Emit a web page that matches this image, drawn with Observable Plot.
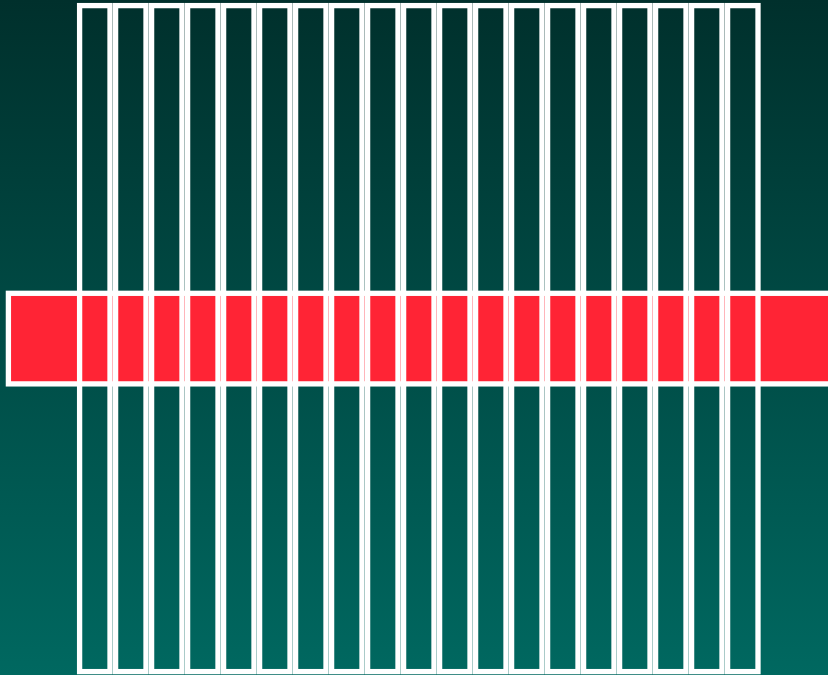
<!DOCTYPE html>
<html>
<head>
<meta charset="utf-8">
<script src="https://cdn.jsdelivr.net/npm/d3@7"></script>
<script src="https://cdn.jsdelivr.net/npm/@observablehq/plot@0.6"></script>
<style>
  html, body { margin: 0; padding: 0; background: #004a44; overflow: hidden; }
  #chart svg { display: block; }
</style>
</head>
<body>
<div id="chart"></div>
<script>
// 19 vertical columns (start index of each column slot)
const columnStart = [0, 1, 2, 3, 4, 5, 6, 7, 8, 9, 10, 11, 12, 13, 14, 15, 16, 17, 18];
// every column spans the full value range
const columnBottom = [0, 0, 0, 0, 0, 0, 0, 0, 0, 0, 0, 0, 0, 0, 0, 0, 0, 0, 0];
const columnTop = [100, 100, 100, 100, 100, 100, 100, 100, 100, 100, 100, 100, 100, 100, 100, 100, 100, 100, 100];
// horizontal red band
const bandX = [-1.9, 21.5];
const bandY = [43.2, 56.8];

const columns = columnStart.map((s, i) => ({x1: s, x2: s + 1, y1: columnBottom[i], y2: columnTop[i]}));
const band = [{x1: bandX[0], x2: bandX[1], y1: bandY[0], y2: bandY[1]}];

const chart = Plot.plot({
  width: 828,
  height: 675,
  margin: 0,
  style: "background: linear-gradient(to bottom, #00302c 0%, #006860 100%); overflow: visible;",
  x: {domain: [0, 19], range: [76.8, 760.8], axis: null},
  y: {domain: [0, 100], range: [671.6, 5.6], axis: null},
  marks: [
    Plot.rect(band, {x1: "x1", x2: "x2", y1: "y1", y2: "y2", fill: "#ff2435", stroke: "white", strokeWidth: 5.3}),
    Plot.rect(columns, {x1: "x1", x2: "x2", y1: "y1", y2: "y2", insetLeft: 2.8, insetRight: 2.8, fill: "none", stroke: "white", strokeWidth: 5.3})
  ]
});
document.getElementById("chart").appendChild(chart);
</script>
</body>
</html>
